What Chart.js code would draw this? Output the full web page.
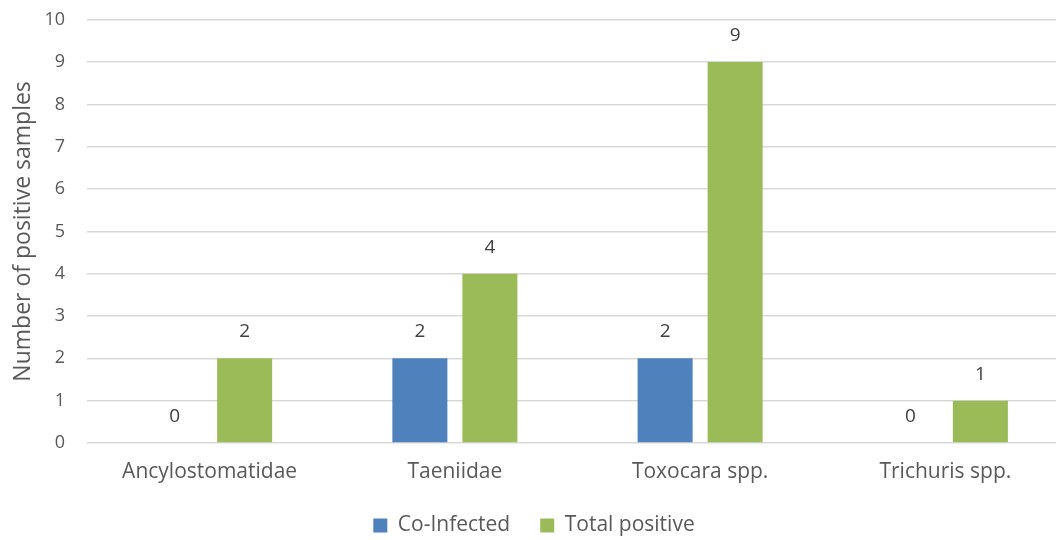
<!DOCTYPE html>
<html>
<head>
<meta charset="utf-8">
<script src="https://cdn.jsdelivr.net/npm/chart.js@4"></script>
<style>
  html, body { margin:0; padding:0; background:#fff; overflow:hidden; }
  #wrap { position:relative; top:-13px; width:1068px; height:559px; }
</style>
</head>
<body>
<div id="wrap"><canvas id="chart"></canvas></div>
<script>
// data
const categories = ['Ancylostomatidae', 'Taeniidae', 'Toxocara spp.', 'Trichuris spp.']
const coInfected = [0, 2, 2, 0]
const totalPositive = [2, 4, 9, 1]
const yTicks = [0, 1, 2, 3, 4, 5, 6, 7, 8, 9, 10]

const FONT = "'Open Sans', sans-serif"
const TEXT = '#595959'

// value labels above each bar
const barLabels = {
  id: 'barLabels',
  afterDatasetsDraw(chart){
    const ctx = chart.ctx
    ctx.save()
    ctx.fillStyle = '#404040'
    ctx.font = "19px " + FONT
    ctx.textAlign = 'center'
    ctx.textBaseline = 'bottom'
    chart.data.datasets.forEach((ds, i) => {
      chart.getDatasetMeta(i).data.forEach((bar, j) => {
        ctx.fillText(String(ds.data[j]), bar.x, bar.y - 17)
      })
    })
    ctx.restore()
  }
}

new Chart(document.getElementById('chart').getContext('2d'), {
  type: 'bar',
  data: {
    labels: categories,
    datasets: [
      { label:'Co-Infected', data:coInfected, backgroundColor:'#4F81BD', borderColor:'#4F81BD',
        categoryPercentage:0.571, barPercentage:0.786 },
      { label:'Total positive', data:totalPositive, backgroundColor:'#9BBB59', borderColor:'#9BBB59',
        categoryPercentage:0.571, barPercentage:0.786 }
    ]
  },
  options: {
    responsive: true,
    maintainAspectRatio: false,
    animation: false,
    layout: { padding: 0 },
    plugins: {
      tooltip: { enabled:false },
      legend: {
        position: 'bottom',
        labels: { boxWidth:14, boxHeight:14, color:TEXT, font:{ family:FONT, size:21 }, padding:30 }
      }
    },
    scales: {
      x: {
        clip: false,
        grid: { display:false },
        border: { display:false },
        ticks: { color:TEXT, font:{ family:FONT, size:21 }, padding:8, maxRotation:0 },
        afterFit(axis){ axis.height = 42 }
      },
      y: {
        clip: false,
        min: 0, max: 10,
        afterBuildTicks(axis){ axis.ticks = yTicks.map(v => ({ value:v })) },
        grid: { color:'#D9D9D9', lineWidth:1.5, drawTicks:false },
        border: { display:false },
        ticks: { color:TEXT, font:{ family:FONT, size:18 }, padding:22 },
        title: { display:true, text:'Number of positive samples', color:TEXT,
                 font:{ family:FONT, size:23 }, padding:{ top:10, bottom:0 } },
        afterFit(axis){ axis.width = 87 }
      }
    }
  },
  plugins: [barLabels]
})
</script>
</body>
</html>
